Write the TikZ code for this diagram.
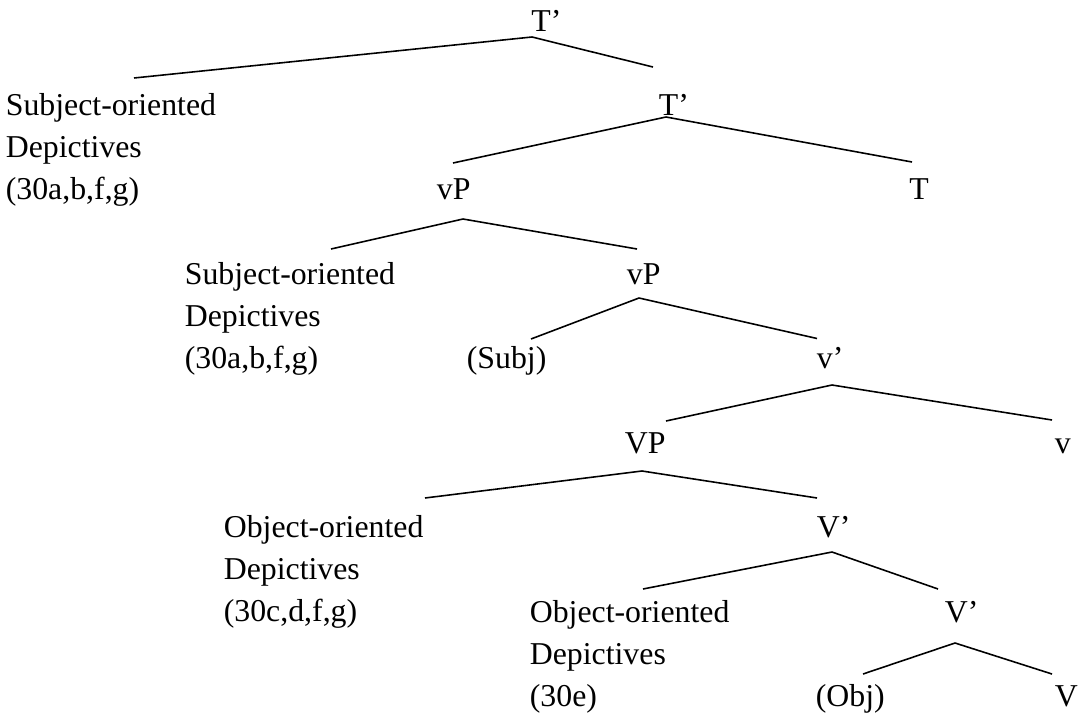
\documentclass[tikz,border=0pt]{standalone}
\usepackage{fontspec}
\setmainfont{Liberation Serif}

\begin{document}
\begin{tikzpicture}[x=0.02cm,y=-0.02cm,
  lbl/.style={anchor=base west,inner sep=0pt,font=\fontsize{18.1}{24}\selectfont},
  blk/.style={lbl,align=left},
  br/.style={line width=0.9pt,line join=miter}]
\useasboundingbox (0,0) rectangle (1078,717);

% labels, one text line every 42.2px (blocks sit on their last line)
\node[lbl] (tbarA) at (531,31) {T'};
\node[blk] (depA) at (5.5,199.8) {Subject-oriented\\Depictives\\(30a,b,f,g)};
\node[lbl] (tbarB) at (658.5,115.4) {T'};
\node[lbl] (vpA) at (436.5,199.8) {vP};
\node[lbl] (tA) at (909,199.8) {T};
\node[blk] (depB) at (184.5,368.6) {Subject-oriented\\Depictives\\(30a,b,f,g)};
\node[lbl] (vpB) at (626.5,284) {vP};
\node[lbl] (subj) at (466.5,368.6) {(Subj)};
\node[lbl] (vbar) at (816.5,368.6) {v'};
\node[lbl] (VPn) at (624.5,453) {VP};
\node[lbl] (vhead) at (1054.5,453) {v};
\node[blk] (depC) at (223.5,621.8) {Object-oriented\\Depictives\\(30c,d,f,g)};
\node[lbl] (VbarA) at (816.5,537.4) {V'};
\node[blk] (depD) at (529.5,706.4) {Object-oriented\\Depictives\\(30e)};
\node[lbl] (VbarB) at (944.5,622) {V'};
\node[lbl] (obj) at (815.5,706) {(Obj)};
\node[lbl] (Vhead) at (1054.5,706) {V};

% branches
\draw[br] ([shift={(128.5,-121.8)}]depA.base west) -- ([shift={(1,6)}]tbarA.base west)
  -- ([shift={(-5.5,-48.4)}]tbarB.base west);
\draw[br] ([shift={(16.5,-36.8)}]vpA.base west) -- ([shift={(7.5,1.6)}]tbarB.base west)
  -- ([shift={(3,-37.8)}]tA.base west);
\draw[br] ([shift={(146.5,-119.6)}]depB.base west) -- ([shift={(26.5,19.2)}]vpA.base west)
  -- ([shift={(10.5,-35)}]vpB.base west);
\draw[br] ([shift={(64.5,-29.6)}]subj.base west) -- ([shift={(12.5,14)}]vpB.base west)
  -- ([shift={(0.5,-30.1)}]vbar.base west);
\draw[br] ([shift={(41.5,-32)}]VPn.base west) -- ([shift={(15.5,16.4)}]vbar.base west)
  -- ([shift={(-2.5,-33)}]vhead.base west);
\draw[br] ([shift={(201.5,-123.8)}]depC.base west) -- ([shift={(17.5,18)}]VPn.base west)
  -- ([shift={(0.5,-39.4)}]VbarA.base west);
\draw[br] ([shift={(113.5,-117.4)}]depD.base west) -- ([shift={(15.5,14.6)}]VbarA.base west)
  -- ([shift={(-6.5,-33)}]VbarB.base west);
\draw[br] ([shift={(47.5,-32)}]obj.base west) -- ([shift={(10.5,21)}]VbarB.base west)
  -- ([shift={(-2.5,-32)}]Vhead.base west);
\end{tikzpicture}
\end{document}
